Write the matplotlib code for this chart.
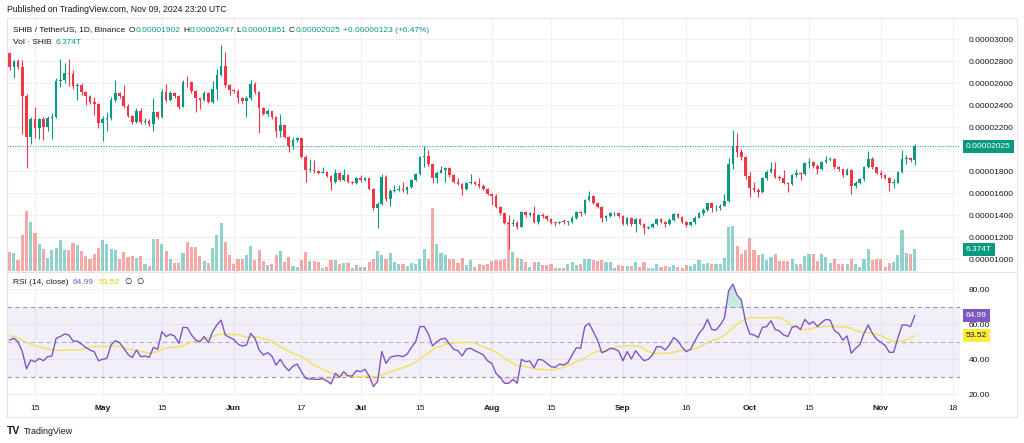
import matplotlib
matplotlib.use("Agg")
import matplotlib.pyplot as plt
import matplotlib.dates as mdates
import matplotlib.transforms as mtransforms
from matplotlib.patches import Rectangle
from matplotlib.lines import Line2D
import numpy as np
import pandas as pd

plt.rcParams['font.family'] = ['Liberation Sans', 'DejaVu Sans']

# ---------------- data (prices in units of 1e-6 USDT, volume in T SHIB) ----------------
start_date = "2024-04-09"
open_first = 28.70

closes = [27.5, 28.0, 27.5, 24.8, 21.1, 22.7, 21.9, 22.7, 22.0, 22.8,
          22.9, 26.2, 26.3, 26.9, 26.8, 25.7, 25.8, 25.2, 24.8, 24.3,
          24.1, 22.4, 22.7, 22.8, 24.45, 25.1, 24.8, 23.9, 23.0, 22.5,
          23.5, 22.5, 22.55, 22.3, 23.4, 22.9, 25.2, 24.5, 25.1, 24.8,
          23.85, 26.1, 26.05, 25.3, 24.6, 24.45, 25.1, 24.3, 25.5, 26.7,
          27.55, 25.8, 25.4, 25.3, 24.6, 24.4, 24.6, 25.95, 25.2, 23.7,
          23.2, 23.5, 22.9, 21.65, 22.2, 21.1, 20.3, 20.8, 21.0, 19.3,
          18.1, 18.12, 18.0, 17.85, 17.95, 17.55, 17.0, 17.8, 17.2, 17.6,
          17.0, 16.95, 17.35, 17.2, 17.35, 16.4, 14.6, 15.0, 17.5, 15.5,
          16.2, 16.3, 16.4, 16.25, 16.55, 17.2, 17.7, 19.3, 19.35, 18.65,
          17.4, 17.85, 18.1, 18.3, 17.6, 17.0, 16.8, 16.35, 16.9, 17.0,
          16.8, 16.65, 16.4, 15.9, 15.75, 14.75, 14.2, 13.3, 13.2, 13.3,
          12.9, 14.3, 14.0, 14.15, 13.4, 14.0, 13.9, 13.6, 13.3, 13.25,
          13.4, 13.35, 13.4, 13.7, 14.25, 14.2, 15.35, 15.7, 15.1, 14.7,
          13.7, 13.9, 14.15, 14.2, 13.9, 13.2, 13.7, 13.15, 13.6, 13.2,
          12.8, 12.9, 13.2, 13.6, 13.4, 13.2, 13.55, 14.1, 13.85, 13.4,
          13.1, 13.4, 13.75, 14.15, 14.45, 15.05, 14.6, 14.65, 14.85, 15.3,
          18.6, 20.3, 19.7, 19.3, 17.55, 16.45, 16.3, 16.1, 17.4, 17.9,
          18.2, 17.5, 17.35, 16.9, 16.8, 17.6, 17.85, 17.7, 18.7, 18.85,
          18.45, 18.2, 18.8, 19.0, 19.1, 18.35, 18.15, 17.65, 18.1, 16.6,
          16.95, 17.25, 18.35, 19.1, 18.35, 17.85, 17.6, 17.4, 16.9, 16.95,
          17.9, 19.1, 19.2, 19.02, 20.25]

highs = [28.8, 28.1, 28.2, 28.1, 25.0, 22.9, 23.8, 22.8, 22.9, 23.0,
         23.3, 26.5, 28.2, 27.8, 28.2, 27.2, 26.0, 26.0, 25.3, 24.9,
         24.7, 24.2, 23.0, 23.4, 24.7, 26.3, 25.2, 25.8, 24.1, 23.1,
         23.7, 23.7, 22.8, 22.7, 24.6, 23.5, 25.5, 25.9, 25.3, 25.2,
         24.9, 26.3, 26.6, 26.1, 25.4, 24.7, 25.3, 25.2, 26.2, 27.3,
         29.45, 28.8, 25.9, 25.5, 25.5, 24.7, 24.8, 26.3, 26.1, 25.3,
         23.8, 23.6, 23.5, 23.0, 23.2, 22.2, 21.2, 21.1, 21.1, 21.0,
         19.5, 19.1, 19.0, 18.1, 18.4, 18.0, 17.6, 18.2, 17.9, 18.2,
         17.7, 17.1, 17.5, 17.6, 17.5, 17.4, 16.5, 15.2, 17.7, 17.6,
         16.4, 16.7, 16.7, 17.0, 16.6, 17.3, 17.8, 19.4, 20.3, 19.9,
         18.7, 18.0, 18.5, 18.4, 18.35, 17.7, 17.4, 16.9, 17.0, 17.7,
         17.1, 17.4, 16.8, 16.5, 16.0, 15.9, 14.8, 14.3, 14.0, 13.6,
         13.5, 14.4, 14.4, 14.3, 14.8, 14.1, 14.2, 14.0, 13.7, 13.4,
         13.5, 13.6, 13.5, 13.9, 14.4, 14.4, 15.5, 16.2, 15.8, 15.2,
         14.8, 14.0, 14.3, 14.3, 14.2, 14.0, 13.8, 13.8, 13.7, 13.7,
         13.3, 13.0, 13.3, 13.7, 13.7, 13.5, 13.7, 14.2, 14.15, 13.9,
         13.5, 13.5, 13.9, 14.3, 14.6, 15.1, 15.1, 14.9, 15.0, 15.9,
         19.2, 21.7, 21.5, 20.0, 19.4, 17.9, 17.0, 16.5, 17.5, 18.1,
         18.85, 18.85, 17.6, 18.1, 17.0, 17.7, 18.2, 17.9, 18.8, 19.15,
         18.9, 18.6, 18.9, 19.4, 19.25, 19.2, 18.5, 18.2, 18.3, 18.2,
         17.1, 17.4, 18.5, 19.8, 19.3, 18.4, 18.1, 17.7, 17.5, 17.3,
         18.0, 19.9, 19.5, 19.3, 20.47]

lows = [27.2, 26.5, 27.3, 21.4, 18.3, 20.5, 21.0, 20.9, 20.8, 21.6,
        20.9, 22.8, 25.6, 26.0, 25.7, 25.5, 24.5, 24.9, 24.0, 24.1,
        23.1, 21.9, 20.7, 21.6, 22.6, 24.3, 24.6, 23.7, 22.9, 22.3,
        22.4, 22.3, 22.3, 22.1, 21.6, 22.7, 22.8, 24.3, 24.4, 24.6,
        23.6, 23.8, 25.6, 25.1, 23.4, 23.6, 24.4, 24.2, 24.2, 24.5,
        26.6, 25.6, 24.9, 25.1, 24.2, 24.2, 22.9, 24.5, 25.0, 21.5,
        23.1, 23.0, 22.7, 21.1, 21.1, 21.0, 19.7, 20.0, 20.6, 19.2,
        17.0, 17.9, 17.8, 17.7, 17.8, 17.5, 16.3, 16.9, 17.1, 17.1,
        16.9, 16.8, 16.8, 17.0, 17.1, 16.3, 14.5, 12.8, 14.9, 15.3,
        14.8, 16.1, 16.2, 16.1, 15.9, 16.5, 17.1, 17.6, 18.4, 18.5,
        16.9, 16.9, 17.8, 17.0, 17.5, 16.9, 16.7, 15.8, 16.3, 16.8,
        16.7, 16.5, 16.3, 15.8, 14.9, 14.6, 14.0, 13.2, 10.9, 13.0,
        12.7, 12.9, 13.8, 13.9, 13.3, 13.2, 13.7, 13.5, 13.2, 13.0,
        13.2, 13.2, 13.1, 13.3, 13.6, 13.9, 14.1, 15.3, 15.0, 14.6,
        13.4, 13.5, 13.8, 13.9, 13.8, 13.1, 13.1, 13.0, 12.5, 13.1,
        12.3, 12.7, 12.8, 13.1, 13.3, 12.9, 13.1, 13.5, 13.7, 13.3,
        12.9, 13.0, 13.2, 13.7, 14.0, 14.4, 14.3, 14.4, 14.5, 14.8,
        15.2, 18.2, 19.3, 19.0, 17.3, 15.6, 16.1, 15.6, 16.0, 17.2,
        17.8, 17.4, 17.2, 16.8, 16.1, 16.7, 17.5, 17.2, 17.6, 18.3,
        18.3, 17.7, 18.1, 18.7, 18.9, 18.2, 18.0, 17.5, 17.6, 15.9,
        16.5, 16.8, 17.1, 18.3, 18.2, 17.7, 17.4, 17.3, 16.2, 16.5,
        16.9, 17.8, 18.6, 18.8, 18.51]

volumes_t = [5.6, 5.3, 3.3, 10.7, 17.5, 14.4, 11.2, 8.0, 6.6, 3.9,
             6.1, 6.9, 9.2, 6.3, 6.1, 8.2, 7.5, 5.9, 4.3, 3.4,
             4.9, 6.9, 9.2, 8.0, 6.6, 6.3, 3.4, 5.6, 4.1, 4.3,
             3.8, 4.4, 2.0, 1.4, 9.3, 9.3, 8.0, 5.9, 3.4, 2.4,
             2.4, 5.4, 8.5, 7.0, 7.1, 4.3, 2.9, 2.4, 6.9, 10.7,
             14.2, 8.5, 4.6, 2.0, 3.6, 3.6, 4.6, 7.3, 3.1, 6.1,
             2.9, 1.7, 2.2, 4.6, 5.9, 2.6, 4.1, 1.5, 1.2, 3.3,
             5.6, 2.8, 2.9, 2.6, 1.0, 1.2, 3.3, 3.1, 2.0, 2.4,
             2.4, 0.8, 1.7, 1.2, 1.2, 2.5, 3.6, 5.9, 4.6, 3.6,
             5.4, 2.5, 2.2, 2.0, 1.5, 2.4, 2.2, 3.4, 6.4, 3.4,
             18.5, 7.8, 5.3, 4.6, 3.4, 3.4, 2.4, 3.8, 1.9, 3.1,
             1.2, 2.2, 1.7, 2.2, 2.8, 3.1, 3.1, 3.4, 14.4, 5.6,
             3.8, 3.6, 2.5, 1.2, 2.6, 2.5, 1.7, 1.7, 2.0, 1.0,
             0.9, 1.0, 2.0, 2.5, 1.9, 2.0, 3.6, 3.4, 3.1, 2.9,
             3.3, 2.7, 2.5, 0.8, 1.7, 1.5, 1.4, 1.5, 2.5, 1.2,
             2.6, 0.9, 0.9, 2.0, 1.2, 1.5, 1.2, 1.7, 1.2, 0.9,
             1.7, 1.4, 2.0, 3.3, 2.2, 2.4, 2.0, 2.0, 2.2, 3.8,
             12.9, 13.1, 7.3, 5.1, 6.1, 9.8, 6.3, 4.6, 5.1, 3.1,
             4.1, 5.1, 2.9, 2.9, 2.9, 3.4, 2.2, 2.0, 4.3, 5.1,
             5.1, 2.9, 4.9, 4.1, 2.4, 3.4, 2.0, 2.2, 2.2, 3.4,
             2.0, 1.2, 3.6, 6.4, 3.3, 3.6, 3.4, 1.2, 2.4, 2.6,
             4.6, 12.0, 5.4, 5.1, 6.374]

rsi_values = [51, 52, 50, 44.4, 34.6, 39.6, 38.6, 40.5, 39.2, 41.5,
              41.9, 52, 53, 54.5, 53.9, 50.4, 50.3, 48.7, 46.8, 45.3,
              44.4, 39.2, 40, 40.6, 48.2, 50.6, 49.5, 46.3, 42.8, 41,
              45.3, 41.5, 41.9, 41.1, 46.8, 45.7, 55.8, 53, 54.3, 53.3,
              49.1, 58.3, 58.1, 53.9, 51, 50, 53, 49.5, 55.8, 59.6,
              62.4, 53.9, 52.5, 51.4, 48.7, 47.6, 48.2, 54.8, 52, 45.3,
              42.5, 43.8, 41.9, 36.7, 40, 36.1, 33.5, 36.1, 37.3, 32.9,
              29.1, 28.7, 28.7, 28.5, 28.9, 27.6, 25.9, 32, 29.7, 32.9,
              30.5, 30.5, 33.5, 32.9, 34.3, 30.5, 24.4, 27.2, 44.4, 37.7,
              41.1, 41.9, 42.1, 41.5, 43, 46.8, 50, 58.7, 58.7, 54.5,
              47.6, 50, 51.6, 52, 48.7, 45.7, 44.9, 41.9, 45.9, 46.3,
              44.9, 43.8, 42.5, 39.2, 37.7, 32, 29.7, 26.3, 26.3, 28.5,
              26.3, 40, 38.7, 39, 35.2, 40, 39.6, 37.7, 35.8, 35.4,
              37.3, 36.7, 38.1, 42.5, 46.6, 46.3, 58.7, 60.6, 55.8, 51,
              43.8, 44.7, 46.3, 45.9, 44.7, 39.2, 44.4, 40.2, 44.9, 41.9,
              39.2, 40, 42.5, 47.2, 47.2, 45.3, 48.2, 52.4, 50.6, 46.8,
              44.4, 45.7, 50.4, 54.8, 57.7, 62.8, 57.1, 56.7, 59.6, 63.4,
              79.2, 83, 76.7, 73.9, 61.5, 54.5, 53.9, 52.4, 58.3, 58.7,
              62.1, 57.1, 56.2, 53.9, 53, 58.3, 59, 57.1, 62.8, 60.1,
              61.5, 58.7, 61.1, 62.8, 62.4, 56.4, 54.8, 51, 53.3, 43.4,
              46.3, 48.2, 54.8, 59.6, 54.8, 51.4, 49.7, 47.9, 44.0, 44.0,
              52, 59.6, 59.6, 58.7, 64.99]

# RSI moving average values before the first full 14-bar window
rsi_ma_head = [53.5, 53.0, 52.0, 51.0, 49.7, 48.7, 47.7, 47.0, 46.5, 46.0, 45.6, 45.2, 45.0]
rsi_ma_len = 14

tick_dates = ["2024-04-15", "2024-05-01", "2024-05-15", "2024-06-01", "2024-06-17",
              "2024-07-01", "2024-07-15", "2024-08-01", "2024-08-15", "2024-09-01",
              "2024-09-16", "2024-10-01", "2024-10-15", "2024-11-01", "2024-11-18"]
tick_labels = ["15", "May", "15", "Jun", "17", "Jul", "15", "Aug", "15", "Sep",
               "16", "Oct", "15", "Nov", "18"]
price_ticks = [10, 12, 14, 16, 18, 20, 22, 24, 26, 28, 30]
rsi_ticks = [20, 40, 60, 80]

header_symbol = "SHIB / TetherUS, 1D, Binance"
published = "Published on TradingView.com, Nov 09, 2024 23:20 UTC"

# ---------------- styling ----------------
UP = '#089981'
DOWN = '#f23645'
VUP = (38/255, 166/255, 154/255, 0.5)
VDOWN = (239/255, 83/255, 80/255, 0.5)
GRID = '#eef0f5'
TXT = '#131722'
PURPLE = '#7e57c2'
YELLOW = '#f5e05a'

W, H = 1024, 443
fig = plt.figure(figsize=(W / 100, H / 100), dpi=100)
fig.patch.set_facecolor('white')


def rect(l, t, r, b):
    return [l / W, 1 - b / H, (r - l) / W, (b - t) / H]


P_L, P_R = 7, 960
PR_T, PR_B = 18, 271
RS_T, RS_B = 272, 397

dates = pd.date_range(start_date, periods=len(closes), freq="D")
x = mdates.date2num(dates)
xlim = (x[0] - 0.615, x[0] + 224.7)
tx = mdates.date2num(pd.to_datetime(tick_dates))

c = np.array(closes)
o = np.array([open_first] + closes[:-1])
h = np.maximum(np.array(highs), np.maximum(o, c))
l = np.minimum(np.array(lows), np.minimum(o, c))
up = c >= o
ccol = np.where(up, UP, DOWN)
vcol = [VUP if u else VDOWN for u in up]

# ---------------- price pane ----------------
ax_p = fig.add_axes(rect(P_L, PR_T, P_R, PR_B))
ax_p.set_xlim(*xlim)
ax_p.set_ylim(8.91, 31.91)
for v in price_ticks:
    ax_p.axhline(v, color=GRID, lw=0.8, zorder=0)
for t in tx:
    ax_p.axvline(t, color=GRID, lw=0.8, zorder=0)
ax_p.yaxis.tick_right()
ax_p.set_yticks(price_ticks)
# the tick label hidden behind the last-price tag is not shown
ax_p.set_yticklabels([f"{v * 1e-6:.8f}" if abs(v - closes[-1]) > 1.0 else "" for v in price_ticks])
ax_p.tick_params(axis='y', length=0, pad=6, labelsize=6, labelcolor=TXT)
ax_p.set_xticks([])
for s in ax_p.spines.values():
    s.set_visible(False)

ax_v = fig.add_axes(rect(P_L, PR_T, P_R, PR_B))
ax_v.patch.set_alpha(0)
ax_v.set_xlim(*xlim)
ax_v.set_ylim(0, 74.4)
ax_v.bar(x, volumes_t, width=0.74, color=vcol, linewidth=0)
ax_v.set_xticks([]); ax_v.set_yticks([])
for s in ax_v.spines.values():
    s.set_visible(False)

ax_c = fig.add_axes(rect(P_L, PR_T, P_R, PR_B))
ax_c.patch.set_alpha(0)
ax_c.set_xlim(*xlim)
ax_c.set_ylim(8.91, 31.91)
ax_c.vlines(x, l, h, colors=ccol, linewidth=0.8)
body_bottom = np.minimum(o, c)
body_h = np.maximum(np.abs(c - o), 0.07)
ax_c.bar(x, body_h, bottom=body_bottom, width=0.62, color=ccol, linewidth=0)
ax_c.axhline(closes[-1], color=UP, lw=0.7, ls=(0, (1, 1.6)))
ax_c.set_xticks([]); ax_c.set_yticks([])
for s in ax_c.spines.values():
    s.set_visible(False)

lab_x = 1 + 6 / (P_R - P_L)
tr_c = mtransforms.blended_transform_factory(ax_c.transAxes, ax_c.transData)
ax_c.text(lab_x, closes[-1], f"{closes[-1] * 1e-6:.8f}", transform=tr_c, ha='left', va='center',
          fontsize=6, color='white', clip_on=False,
          bbox=dict(boxstyle='square,pad=0.35', fc=UP, ec='none'))
tr_v = mtransforms.blended_transform_factory(ax_v.transAxes, ax_v.transData)
ax_v.text(lab_x, volumes_t[-1], f"{volumes_t[-1]:.3f}T", transform=tr_v, ha='left', va='center',
          fontsize=6, color='white', clip_on=False, zorder=10,
          bbox=dict(boxstyle='square,pad=0.35', fc=UP, ec='none'))

# ---------------- RSI pane ----------------
rsi = np.array(rsi_values)
rsi_ma = np.array(rsi_ma_head + [rsi[i - rsi_ma_len + 1:i + 1].mean()
                                 for i in range(len(rsi_ma_head), len(rsi))])

ax_r = fig.add_axes(rect(P_L, RS_T, P_R, RS_B))
ax_r.set_xlim(*xlim)
ax_r.set_ylim(18.46, 89.89)
for v in rsi_ticks:
    ax_r.axhline(v, color=GRID, lw=0.8, zorder=0)
for t in tx:
    ax_r.axvline(t, color=GRID, lw=0.8, zorder=0)
ax_r.axhspan(30, 70, color=PURPLE, alpha=0.09, lw=0, zorder=0.5)
ax_r.axhline(70, color='#9598a1', lw=0.8, ls=(0, (4, 3)))
ax_r.axhline(50, color='#b2b5be', lw=0.8, ls=(0, (4, 3)))
ax_r.axhline(30, color='#9598a1', lw=0.8, ls=(0, (4, 3)))
ax_r.fill_between(x, rsi, 70, where=rsi > 70, interpolate=True, color=UP, alpha=0.22, lw=0)
ax_r.fill_between(x, rsi, 30, where=rsi < 30, interpolate=True, color=DOWN, alpha=0.15, lw=0)
ax_r.plot(x, rsi_ma, color=YELLOW, lw=1.0)
ax_r.plot(x, rsi, color=PURPLE, lw=1.0)
ax_r.yaxis.tick_right()
ax_r.set_yticks(rsi_ticks)
ax_r.set_yticklabels([f"{v:.2f}" for v in rsi_ticks])
ax_r.tick_params(axis='y', length=0, pad=6, labelsize=6, labelcolor=TXT)
ax_r.set_xticks(tx)
ax_r.set_xticklabels(tick_labels)
ax_r.tick_params(axis='x', length=0, pad=6, labelsize=6, labelcolor=TXT)
for lab, txt in zip(ax_r.get_xticklabels(), tick_labels):
    if not txt.isdigit():
        lab.set_fontweight('bold')
for s in ax_r.spines.values():
    s.set_visible(False)

tr_r = mtransforms.blended_transform_factory(ax_r.transAxes, ax_r.transData)
ax_r.text(lab_x, rsi[-1], f"{rsi[-1]:.2f}", transform=tr_r, ha='left', va='center',
          fontsize=6, color='white', clip_on=False,
          bbox=dict(boxstyle='square,pad=0.35', fc=PURPLE, ec='none'))
ax_r.text(lab_x, rsi_ma[-1], f"{rsi_ma[-1]:.2f}", transform=tr_r, ha='left', va='center',
          fontsize=6, color=TXT, clip_on=False,
          bbox=dict(boxstyle='square,pad=0.35', fc='#ffeb3b', ec='none'))

# ---------------- frame and texts ----------------
fig.patches.append(Rectangle((7 / W, 1 - 417 / H), 1010 / W, 399 / H, transform=fig.transFigure,
                             fill=False, ec='#e0e3eb', lw=0.8))
fig.lines.append(Line2D([7 / W, 1017 / W], [1 - 271.8 / H, 1 - 271.8 / H],
                        transform=fig.transFigure, color='#e0e3eb', lw=0.8))


def ftext(px, py, s, **kw):
    return fig.text(px / W, 1 - py / H, s, va='center', ha='left', **kw)


renderer = fig.canvas.get_renderer()


def text_width(t):
    return t.get_window_extent(renderer=renderer).width


ftext(7, 10, published, fontsize=6.2, color=TXT)
ftext(13, 30, header_symbol, fontsize=6, color=TXT)
hdr = [("O", 129, o[-1]), ("H", 183, highs[-1]),
       ("L", 236, lows[-1]), ("C", 289, closes[-1])]
for letter, px_, val in hdr:
    t = ftext(px_, 30, letter, fontsize=6, color=TXT)
    ftext(px_ + text_width(t) + 0.5, 30, f"{val * 1e-6:.8f}", fontsize=6, color=UP)
chg = closes[-1] - o[-1]
ftext(343, 30, f"+{chg * 1e-6:.8f} (+{chg / o[-1] * 100:.2f}%)", fontsize=6, color=UP)
tv = ftext(13, 42, "Vol · SHIB", fontsize=6, color=TXT)
ftext(13 + text_width(tv) + 4, 42, f"{volumes_t[-1]:.3f}T", fontsize=6, color=UP)

tr1 = ftext(13, 282, "RSI (14, close)", fontsize=6, color=TXT)
x1 = 13 + text_width(tr1) + 4
t2 = ftext(x1, 282, f"{rsi[-1]:.2f}", fontsize=6, color=PURPLE)
x2 = x1 + text_width(t2) + 5
t3 = ftext(x2, 282, f"{rsi_ma[-1]:.2f}", fontsize=6, color='#e8c800')
x3 = x2 + text_width(t3) + 5
t4 = ftext(x3, 282, "∅", fontsize=6, color=TXT)
ftext(x3 + text_width(t4) + 5, 282, "∅", fontsize=6, color=TXT)

ftext(7, 431, "TV", fontsize=7.5, color=TXT, fontweight='heavy')
ftext(24, 431, "TradingView", fontsize=6.4, color=TXT)

fig.savefig("out.png", dpi=100, facecolor='white')
